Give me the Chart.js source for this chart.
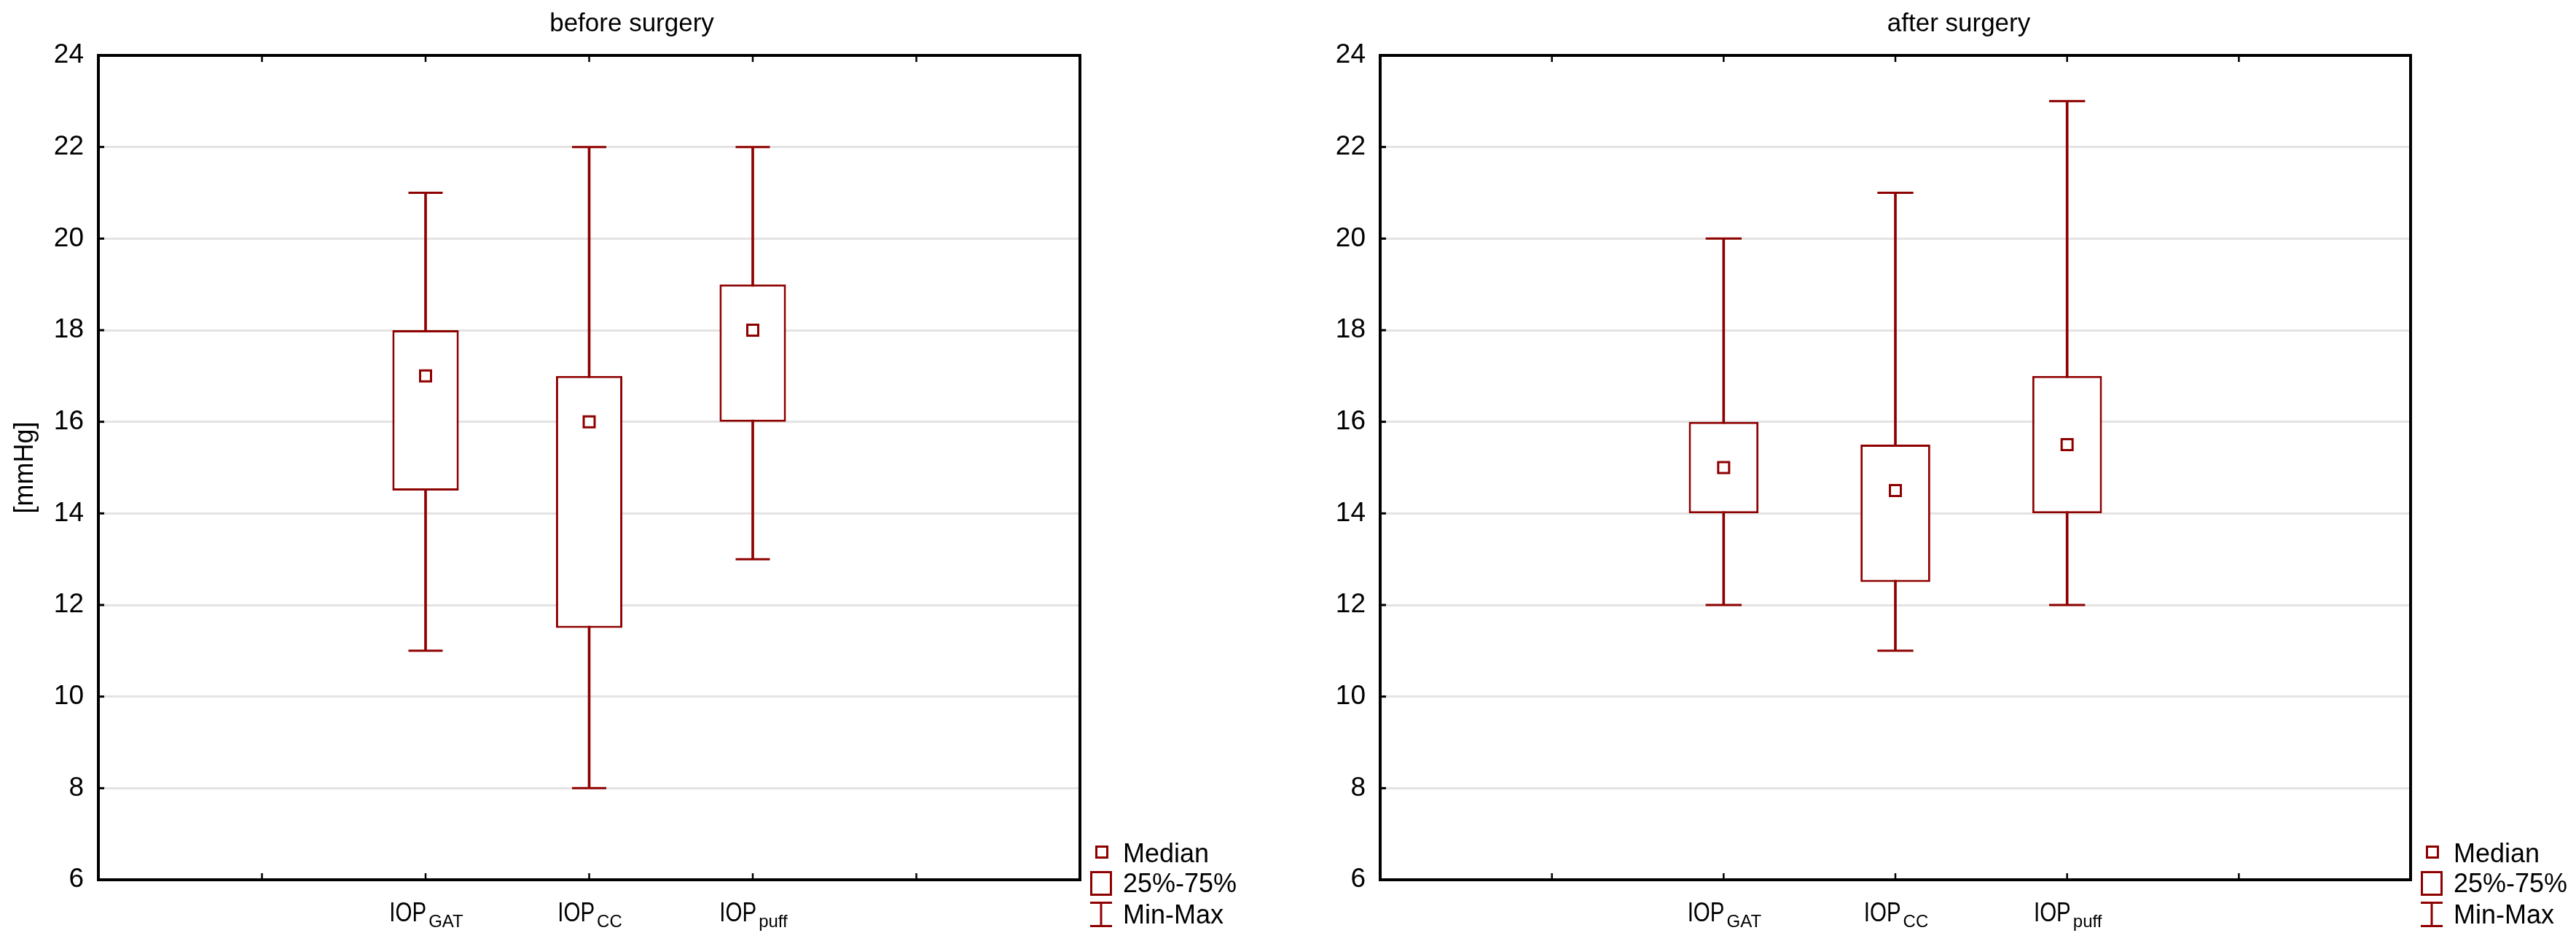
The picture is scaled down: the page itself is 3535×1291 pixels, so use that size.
<!DOCTYPE html>
<html>
<head>
<meta charset="utf-8">
<script src="https://cdn.jsdelivr.net/npm/chart.js@4.4.1/dist/chart.umd.min.js"></script>
<style>
html,body{margin:0;padding:0;background:#fff;}
#wrap{position:relative;width:3535px;height:1291px;overflow:hidden;background:#fff;}
canvas{position:absolute;top:0;}
#left{left:0;}
#right{left:1767px;}
</style>
</head>
<body>
<div id="wrap">
<canvas id="left" width="1767" height="1291"></canvas>
<canvas id="right" width="1768" height="1291"></canvas>
</div>
<script>
// ---- data ----
const categories = ['GAT', 'CC', 'puff'];
const categoryPositions = [2, 3, 4];
const beforeMin    = [11, 8, 13];
const beforeQ1     = [14.5, 11.5, 16];
const beforeMedian = [17, 16, 18];
const beforeQ3     = [18, 17, 19];
const beforeMax    = [21, 22, 22];
const afterMin     = [12, 11, 12];
const afterQ1      = [14, 12.5, 14];
const afterMedian  = [15, 14.5, 15.5];
const afterQ3      = [16, 15.5, 17];
const afterMax     = [20, 21, 23];
const yMin = 6, yMax = 24, yStep = 2;
const xMin = 0, xMax = 6;
const panelTitles = ['before surgery', 'after surgery'];
const yAxisTitle = '[mmHg]';
const labelMain = 'IOP';
const legendLabels = ['Median', '25%-75%', 'Min-Max'];

// ---- style ----
const RED = '#8e0000';
const FONT = '"Liberation Sans", Arial, sans-serif';

const framePlugin = {
  id: 'boxFrame',
  afterDatasetsDraw(chart, args, o) {
    const {ctx, chartArea: a, scales: {x, y}} = chart;
    const line = (x1, y1, x2, y2) => { ctx.beginPath(); ctx.moveTo(x1, y1); ctx.lineTo(x2, y2); ctx.stroke(); };
    ctx.save();
    ctx.strokeStyle = '#000';
    ctx.lineCap = 'butt';
    // inward x ticks (top and bottom)
    ctx.lineWidth = 2.5;
    x.ticks.forEach(t => {
      if (t.value <= x.min || t.value >= x.max) return;
      const px = x.getPixelForValue(t.value);
      line(px, a.bottom, px, a.bottom - 9);
      line(px, a.top, px, a.top + 9);
    });
    // inward y ticks (left)
    ctx.lineWidth = 3;
    y.ticks.forEach(t => {
      if (t.value <= y.min || t.value >= y.max) return;
      const py = y.getPixelForValue(t.value);
      line(a.left, py, a.left + 8, py);
    });
    // frame
    ctx.lineWidth = 4;
    ctx.lineJoin = 'miter';
    ctx.strokeRect(a.left, a.top, a.right - a.left, a.bottom - a.top);

    // x labels with subscript
    ctx.fillStyle = '#000';
    ctx.textAlign = 'left';
    ctx.textBaseline = 'alphabetic';
    const squeeze = 0.82;
    categories.forEach((c, i) => {
      const px = x.getPixelForValue(categoryPositions[i]);
      ctx.font = '36px ' + FONT;
      const w1 = ctx.measureText(labelMain).width * squeeze;
      ctx.font = '24px ' + FONT;
      const w2 = ctx.measureText(c).width;
      const gap = 3;
      const sx = px - (w1 + gap + w2) / 2 + 1;
      const by = a.bottom + 57;
      ctx.save();
      ctx.translate(sx, by);
      ctx.scale(squeeze, 1);
      ctx.font = '36px ' + FONT;
      ctx.fillText(labelMain, 0, 0);
      ctx.restore();
      ctx.font = '24px ' + FONT;
      ctx.fillText(c, sx + w1 + gap, by + 8);
    });

    // title
    ctx.font = '35px ' + FONT;
    ctx.textAlign = 'center';
    ctx.fillText(o.title, o.titleX, 43);

    // legend
    const lx = a.right;
    ctx.strokeStyle = RED;
    ctx.lineWidth = 3;
    // median marker
    ctx.strokeRect(lx + 22.5, 1161.5, 15, 15);
    // box marker
    ctx.strokeRect(lx + 15.5, 1196.5, 27, 31);
    // min-max marker
    line(lx + 14, 1238.5, lx + 44, 1238.5);
    line(lx + 14, 1270.5, lx + 44, 1270.5);
    line(lx + 29, 1238, lx + 29, 1271);
    ctx.fillStyle = '#000';
    ctx.textAlign = 'left';
    ctx.font = '36px ' + FONT;
    const baselines = [1183, 1224, 1267];
    legendLabels.forEach((t, i) => ctx.fillText(t, lx + 59, baselines[i]));
    ctx.restore();
  }
};

function buildDatasets(mins, q1s, meds, q3s, maxs, capRadius) {
  const pts = (vals) => categoryPositions.map((p, i) => ({x: p, y: vals[i]}));
  return [
    {
      type: 'bar', label: 'Min-Max',
      data: categoryPositions.map((p, i) => ({x: p, y: [mins[i], maxs[i]]})),
      backgroundColor: RED, borderWidth: 0, grouped: false,
      maxBarThickness: 3, barPercentage: 1, categoryPercentage: 1, order: 4
    },
    {
      type: 'bar', label: '25%-75%',
      data: categoryPositions.map((p, i) => ({x: p, y: [q1s[i], q3s[i]]})),
      backgroundColor: '#ffffff', borderColor: RED, borderWidth: 3, borderSkipped: false,
      grouped: false, barPercentage: 0.406, categoryPercentage: 1, order: 3
    },
    {
      type: 'scatter', label: 'caps',
      data: pts(mins).concat(pts(maxs)),
      pointStyle: 'line', radius: capRadius, borderColor: RED, borderWidth: 3,
      backgroundColor: RED, order: 2
    },
    {
      type: 'scatter', label: 'Median',
      data: pts(meds),
      pointStyle: 'rect', radius: 10.6, borderColor: RED, borderWidth: 3,
      backgroundColor: '#ffffff', order: 1
    }
  ];
}

function makeChart(id, datasets, opts) {
  return new Chart(document.getElementById(id), {
    type: 'bar',
    data: {datasets},
    options: {
      responsive: false,
      devicePixelRatio: 1,
      animation: false,
      events: [],
      layout: {padding: {left: 0, top: 76, right: opts.padRight, bottom: 84}},
      plugins: {
        legend: {display: false},
        tooltip: {enabled: false},
        boxFrame: {title: opts.title, titleX: opts.titleX}
      },
      scales: {
        x: {
          type: 'linear', min: xMin, max: xMax, offset: false,
          ticks: {display: false, stepSize: 1},
          grid: {display: false, offset: false, drawTicks: false},
          border: {display: false},
          afterFit: s => { s.height = 0; }
        },
        y: {
          type: 'linear', min: yMin, max: yMax, beginAtZero: false,
          ticks: {stepSize: yStep, color: '#000', padding: 20, font: {family: FONT, size: 37}},
          grid: {color: '#e3e3e3', lineWidth: 3, drawTicks: false},
          border: {display: false},
          title: {display: opts.showYTitle, text: yAxisTitle, color: '#000',
                  font: {family: FONT, size: 36}, padding: {top: 13, bottom: 0}},
          afterFit: s => { s.width = opts.yWidth; }
        }
      }
    },
    plugins: [framePlugin]
  });
}

makeChart('left',
  buildDatasets(beforeMin, beforeQ1, beforeMedian, beforeQ3, beforeMax, 23.5),
  {padRight: 285, yWidth: 135, title: panelTitles[0], titleX: 867, showYTitle: true});
makeChart('right',
  buildDatasets(afterMin, afterQ1, afterMedian, afterQ3, afterMax, 24.7),
  {padRight: 227, yWidth: 127, title: panelTitles[1], titleX: 921, showYTitle: false});
</script>
</body>
</html>
